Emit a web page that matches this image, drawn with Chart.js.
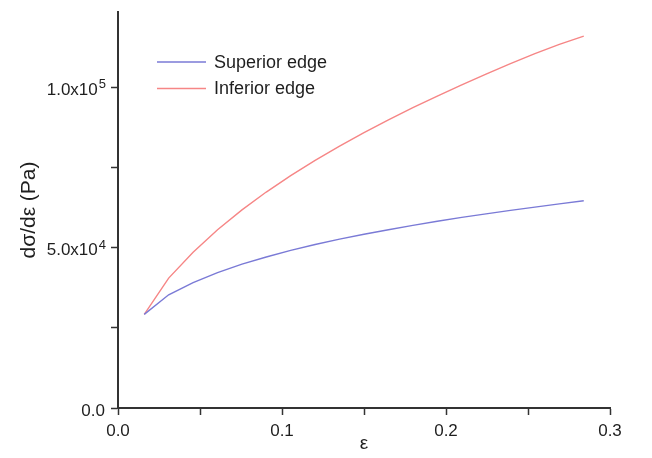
<!DOCTYPE html>
<html>
<head>
<meta charset="utf-8">
<script src="https://cdn.jsdelivr.net/npm/chart.js@4.4.1/dist/chart.umd.min.js"></script>
<style>
  html, body { margin: 0; padding: 0; background: #fff; }
  #wrap { width: 652px; height: 458px; }
</style>
</head>
<body>
<div id="wrap"><canvas id="chart"></canvas></div>
<script>
// strain values (x) and tangent modulus of both edges (y, Pa)
const strain = [0.0160, 0.0309, 0.0458, 0.0607, 0.0756, 0.0904, 0.1053, 0.1202, 0.1351, 0.1500,
                0.1649, 0.1798, 0.1947, 0.2096, 0.2244, 0.2393, 0.2542, 0.2691, 0.2840];
const superiorEdge = [29200, 35300, 39100, 42200, 44850, 47100, 49150, 51000, 52650, 54200,
                      55600, 56950, 58250, 59450, 60550, 61650, 62650, 63650, 64650];
const inferiorEdge = [29200, 40500, 48600, 55600, 61800, 67350, 72450, 77200, 81650, 85850,
                      89850, 93650, 97300, 100800, 104150, 107400, 110500, 113400, 116000];

// tick marks (major + minor) and the labelled ones
const xTickMarks = [0, 0.05, 0.1, 0.15, 0.2, 0.25, 0.3];
const xTickValues = [0, 0.1, 0.2, 0.3];
const xTickLabels = ['0.0', '0.1', '0.2', '0.3'];
const yTickMarks = [0, 25000, 50000, 75000, 100000];
const yTickValues = [0, 50000, 100000];
const yTickLabels = ['0.0', '5.0x10', '1.0x10'];
const yTickExponents = ['', '4', '5'];

const FONT = "'Liberation Sans', Arial, sans-serif";
const AXIS = '#333333';

function labelFor(values, labels, v) {
  const i = values.findIndex(t => Math.abs(t - v) < 1e-9);
  return i >= 0 ? labels[i] : '';
}

// y tick labels with a raised exponent (1.0x10^5 style)
const sciLabels = {
  id: 'sciLabels',
  afterDraw(chart) {
    const ctx = chart.ctx;
    const scale = chart.scales.y;
    const right = scale.right - 13;
    ctx.save();
    ctx.fillStyle = '#1e1e1e';
    ctx.textAlign = 'right';
    ctx.textBaseline = 'alphabetic';
    yTickValues.forEach((v, i) => {
      const y = scale.getPixelForValue(v);
      let x = right;
      if (yTickExponents[i]) {
        ctx.font = '13px ' + FONT;
        ctx.fillText(yTickExponents[i], x + 1, y + 1);
        x -= ctx.measureText(yTickExponents[i]).width;
      }
      ctx.font = '17px ' + FONT;
      ctx.fillText(yTickLabels[i], x, y + 7.5);
    });
    ctx.restore();
  }
};

// legend drawn inside the plot area, top-left
const innerLegend = {
  id: 'innerLegend',
  afterDraw(chart) {
    const ctx = chart.ctx;
    ctx.save();
    ctx.font = '18px ' + FONT;
    ctx.textBaseline = 'middle';
    chart.data.datasets.forEach((ds, i) => {
      const y = 62 + i * 26.5;
      ctx.strokeStyle = ds.borderColor;
      ctx.lineWidth = 1.3;
      ctx.beginPath();
      ctx.moveTo(157, y);
      ctx.lineTo(206, y);
      ctx.stroke();
      ctx.fillStyle = '#1e1e1e';
      ctx.fillText(ds.label, 214, y + 1);
    });
    ctx.restore();
  }
};

new Chart(document.getElementById('chart'), {
  type: 'line',
  data: {
    datasets: [
      {
        label: 'Superior edge',
        data: strain.map((x, i) => ({ x: x, y: superiorEdge[i] })),
        borderColor: 'rgb(122, 122, 214)',
        borderWidth: 1.4,
        pointRadius: 0,
        fill: false
      },
      {
        label: 'Inferior edge',
        data: strain.map((x, i) => ({ x: x, y: inferiorEdge[i] })),
        borderColor: 'rgb(246, 134, 134)',
        borderWidth: 1.4,
        pointRadius: 0,
        fill: false
      }
    ]
  },
  options: {
    responsive: true,
    maintainAspectRatio: false,
    animation: false,
    layout: { padding: { left: 0, top: 12, right: 42, bottom: 0 } },
    plugins: {
      legend: { display: false },
      tooltip: { enabled: false }
    },
    scales: {
      x: {
        type: 'linear',
        min: 0,
        max: 0.3,
        afterFit(scale) { scale.height = 50; },
        afterBuildTicks(scale) { scale.ticks = xTickMarks.map(v => ({ value: v })); },
        border: { display: true, color: AXIS, width: 2 },
        grid: { drawOnChartArea: false, drawTicks: true, tickLength: 7, color: AXIS, tickWidth: 1.5 },
        ticks: {
          maxRotation: 0,
          autoSkip: false,
          padding: 6,
          color: '#1e1e1e',
          font: { family: FONT, size: 17 },
          callback: v => labelFor(xTickValues, xTickLabels, v)
        },
        title: {
          display: true,
          text: '\u03b5',
          color: '#1e1e1e',
          font: { family: FONT, size: 19 },
          padding: { top: 0, bottom: 3 }
        }
      },
      y: {
        type: 'linear',
        min: 0,
        max: 123500,
        afterFit(scale) { scale.width = 118; },
        afterBuildTicks(scale) { scale.ticks = yTickMarks.map(v => ({ value: v })); },
        border: { display: true, color: AXIS, width: 2 },
        grid: { drawOnChartArea: false, drawTicks: true, tickLength: 7, color: AXIS, tickWidth: 1.5 },
        ticks: {
          autoSkip: false,
          callback: () => ''
        },
        title: {
          display: true,
          text: 'd\u03c3/d\u03b5 (Pa)',
          color: '#1e1e1e',
          font: { family: FONT, size: 21 },
          padding: { top: 17, bottom: 0 }
        }
      }
    }
  },
  plugins: [sciLabels, innerLegend]
});
</script>
</body>
</html>
